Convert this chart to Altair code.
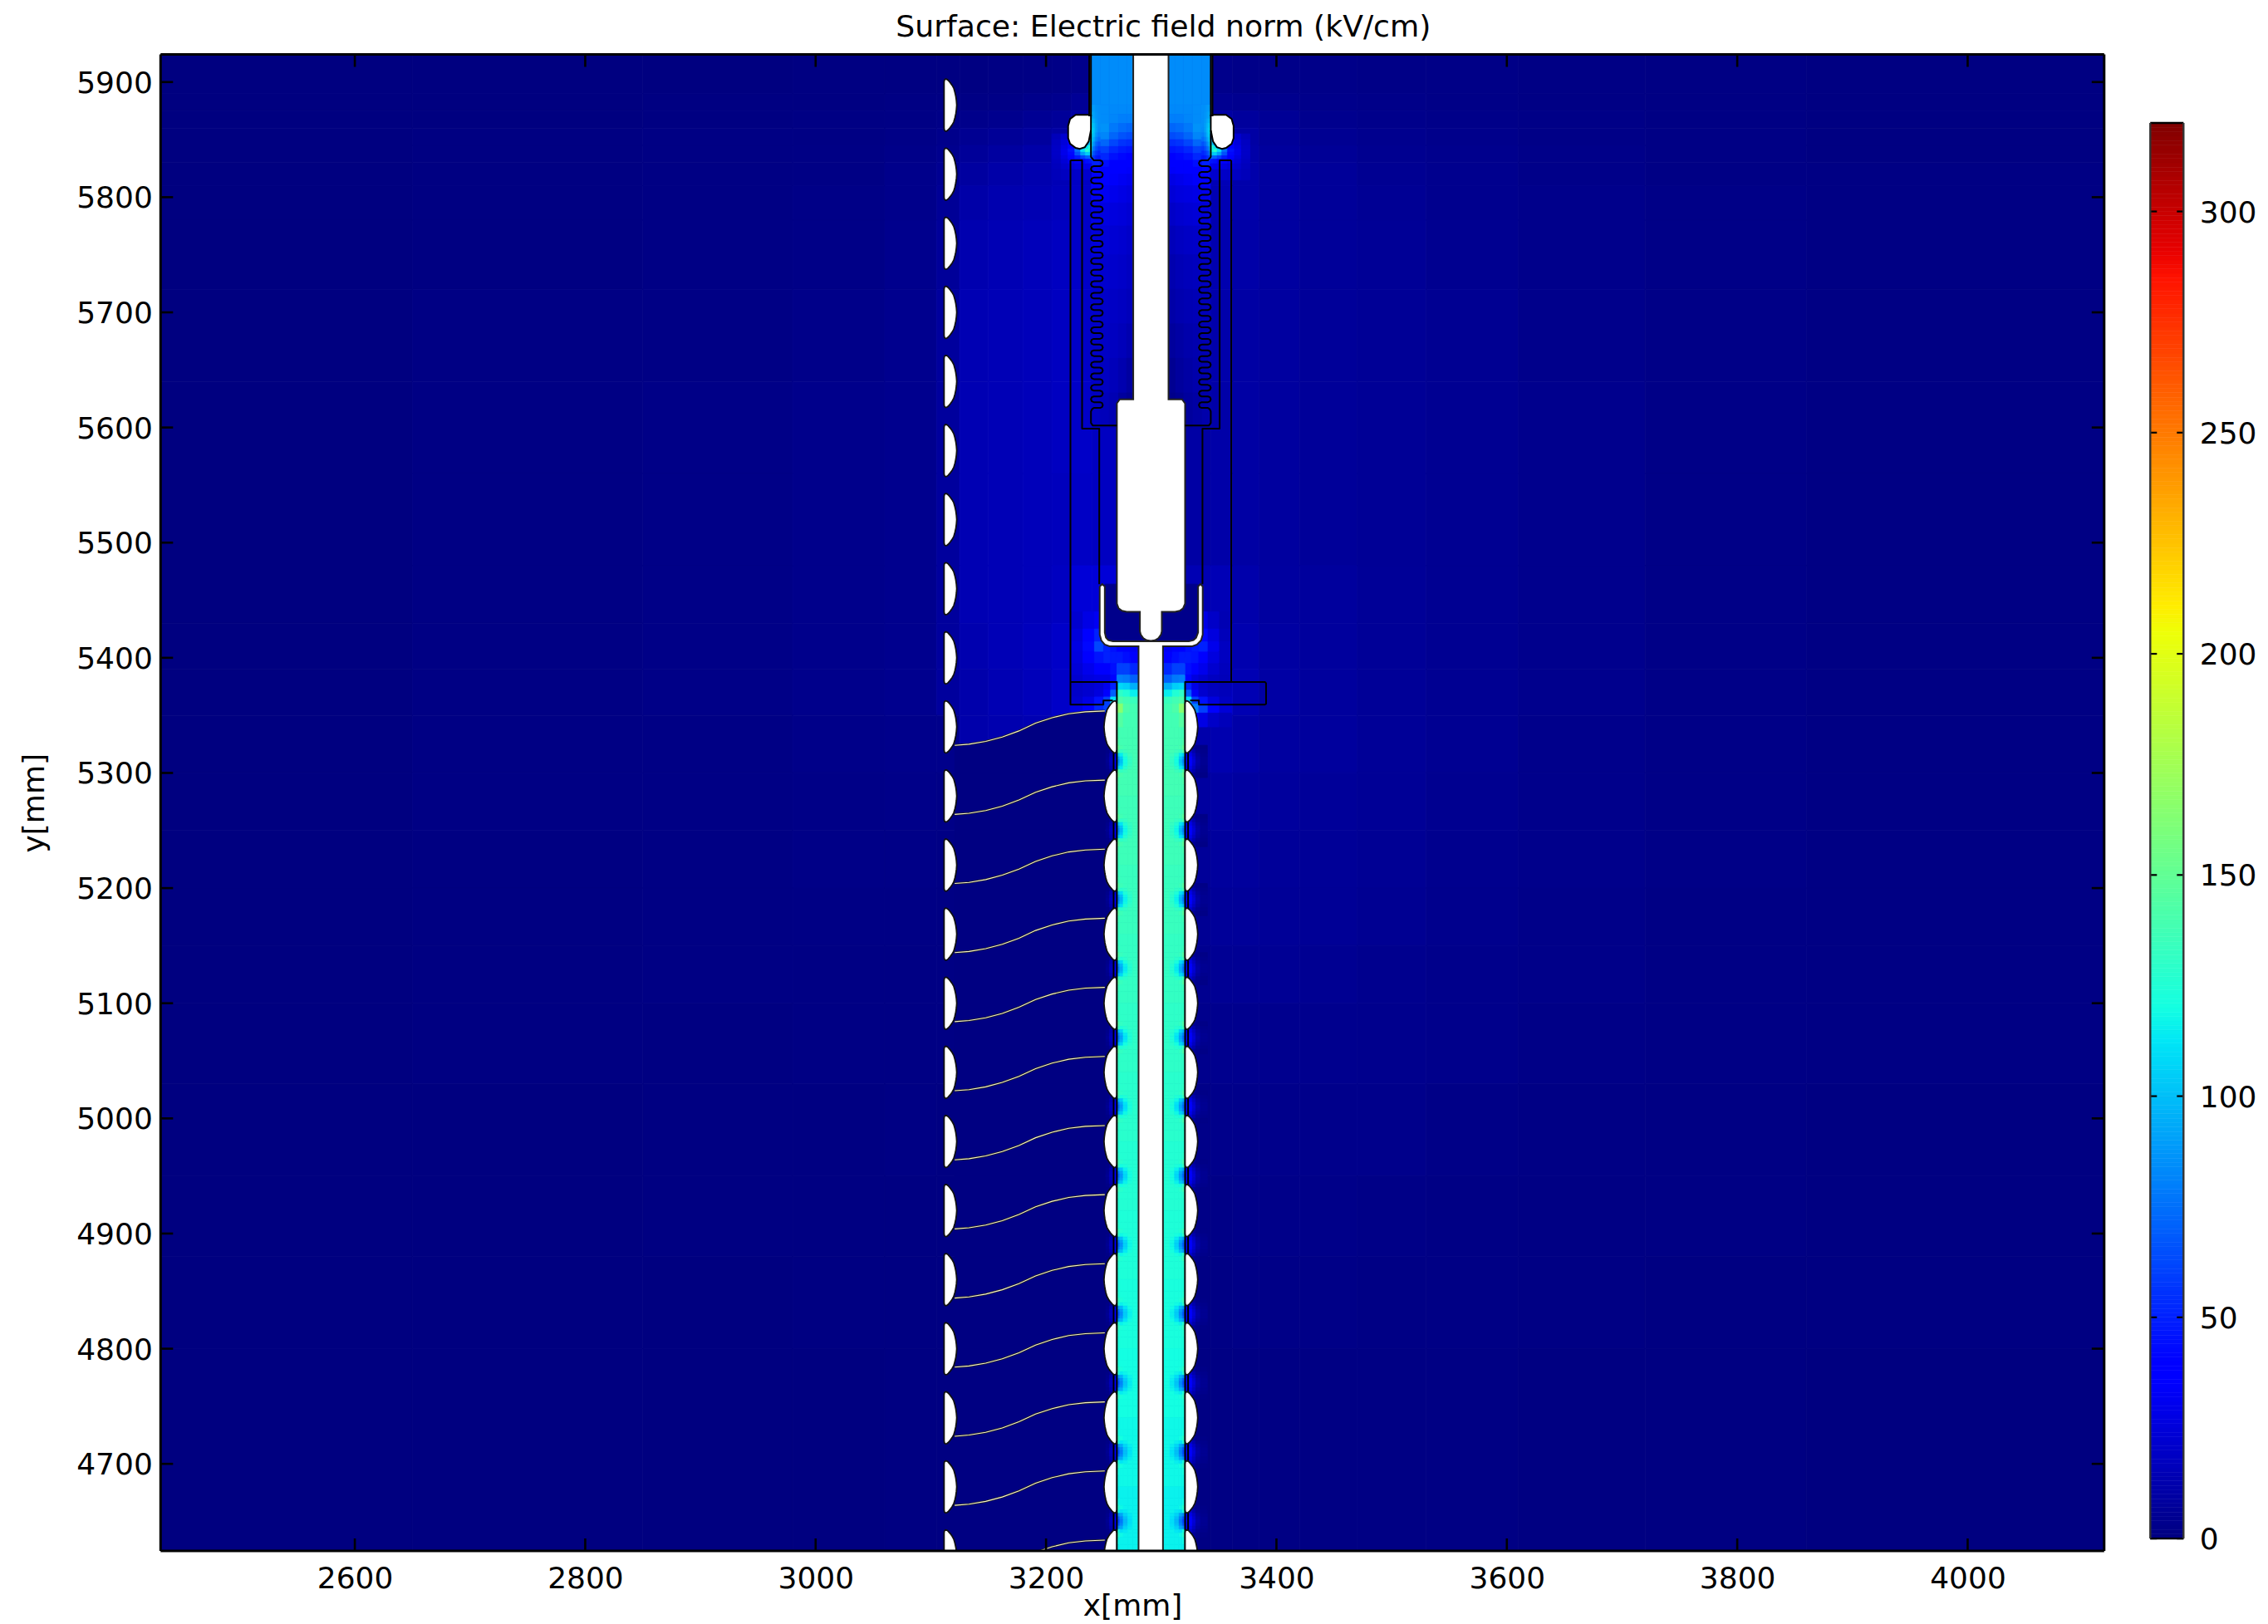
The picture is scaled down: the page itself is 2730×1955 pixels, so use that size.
import altair as alt

PLOT_W, PLOT_H = 2339.5, 1801.5
X_DOMAIN = [2431.4, 4118.5]
Y_DOMAIN = [4624.4, 5924.0]
MIRROR = 6582
FONT = "DejaVu Sans"
FS = 36

x_ticks = [2600, 2800, 3000, 3200, 3400, 3600, 3800, 4000]
y_ticks = [4700, 4800, 4900, 5000, 5100, 5200, 5300, 5400, 5500, 5600, 5700, 5800, 5900]
cbar_ticks = [0, 50, 100, 150, 200, 250, 300]

jet_stops = [0, 35.2, 40, 112, 120, 204.8, 211, 285, 291, 320]
jet_colors = ["#000080", "#0000ff", "#0000ff", "#00e5f7", "#14ffe2", "#eeff08", "#ffec00", "#ff1300", "#e80000", "#800000"]

# background field, kV/cm, read by eye
field_x = [2431, 2650, 2850, 2980, 3060, 3105, 3125, 3150, 3180, 3205, 3222, 3240, 3291, 3343, 3362, 3385, 3420, 3470, 3530, 3610, 3720, 3860, 4119]
field_y = [5930, 5890, 5875, 5860, 5845, 5830, 5810, 5780, 5720, 5640, 5560, 5480, 5430, 5390, 5350, 5300, 5250, 5200, 5150, 5100, 5030, 4950, 4880, 4800, 4600]
field_v = [
    [0, 0, 0, .5, .5, .5, .5, 1, 1.5, 2, 3, 8, 8, 3, 2.5, 2.5, 2.5, 2, 2, 1.5, 1, .5],
    [0, 0, .5, .5, 1, 1, 1.5, 2, 3, 4, 6, 20, 20, 5, 4.5, 4, 3, 2.5, 2, 1.5, 1, .5],
    [0, 0, .5, 1, 1.5, 2, 3, 4, 5.5, 7, 10, 30, 30, 10, 8, 6, 4, 3, 2.5, 2, 1, .5],
    [0, .5, 1, 1, 2, 3, 5, 6.5, 8, 10, 14, 30, 30, 13, 10, 7, 5, 4, 3, 2, 1.5, .5],
    [0, .5, 1, 1.5, 2.5, 4, 7, 9, 11, 13, 18, 30, 30, 15, 11, 8, 6, 4.5, 3.5, 2.5, 1.5, .5],
    [0, .5, 1, 1.5, 3, 5, 9, 11, 13, 15, 19, 25, 25, 15, 12, 9, 7, 5, 4, 2.5, 1.5, 1],
    [0, .5, 1, 2, 3, 6, 11, 13, 14, 16, 20, 25, 25, 14, 12, 9, 7, 5.5, 4, 3, 2, 1],
    [0, .5, 1.5, 2, 3.5, 7, 13, 14.5, 16, 18, 20, 22, 16, 13, 11, 9, 7, 6, 4.5, 3, 2, 1],
    [0, 1, 1.5, 2.5, 4, 8, 14, 15, 16, 18, 20, 20, 10, 12, 10, 9, 7, 6, 5, 3, 2, 1],
    [0, 1, 2, 3, 4, 8, 14, 15, 16, 18, 20, 18, 10, 11, 10, 8.5, 7, 6, 5, 3.5, 2, 1],
    [0, 1, 2, 3, 4, 8, 14, 15, 16, 17, 19, 18, 10, 11, 10, 8.5, 7, 6, 5, 3.5, 2, 1],
    [0, 1, 2, 3, 4, 8, 14, 15, 16, 18, 24, 24, 14, 15, 12, 9, 8, 6.5, 5, 3.5, 2, 1],
    [0, 1, 2, 3, 4, 8, 13, 15, 17, 20, 30, 36, 30, 22, 13, 9.5, 8, 6.5, 5, 3.5, 2, 1],
    [0, 1, 2, 3, 4, 8, 12, 14, 16, 20, 30, 50, 30, 25, 14, 10, 8, 6.5, 5, 3.5, 2, 1],
    [0, 1, 1.5, 2.5, 3, 3, 12, 13, 14, 18, 26, 1, 12, 13, 11, 9, 8, 6.5, 5, 3, 2, 1],
    [0, 1, 1.5, 2, 2.5, 2, 1, 1, 1, 1, 1, 1, 9, 10, 9, 8, 7, 6, 4.5, 3, 2, 1],
    [0, .5, 1, 2, 2, 1.5, 1, 1, 1, 1, 1, 1, 7, 8, 8, 7, 6.5, 5.5, 4, 3, 2, 1],
    [0, .5, 1, 1.5, 1.5, 1, 1, 1, 1, 1, 1, 1, 5.5, 7, 7, 6.5, 6, 5, 3.5, 2.5, 1.5, 1],
    [0, .5, 1, 1, 1, 1, 1, 1, 1, 1, 1, 1, 4.5, 5.5, 5.5, 5.5, 5, 4, 3, 2.5, 1.5, 1],
    [0, .5, .5, 1, 1, 1, 1, 1, 1, 1, 1, 1, 3.5, 4, 4, 4, 4, 3.5, 3, 2, 1.5, 1],
    [0, 0, .5, .5, 1, .5, 1, 1, 1, 1, 1, 1, 2.5, 3, 3, 3, 3, 3, 2, 1.5, 1, .5],
    [0, 0, .5, .5, .5, .5, 1, 1, 1, 1, 1, 1, 2, 2, 2.5, 2.5, 2.5, 2, 1.5, 1, 1, .5],
    [0, 0, 0, .5, .5, .5, 1, 1, 1, 1, 1, 1, 1.5, 1.5, 2, 2, 2, 1.5, 1.5, 1, .5, .5],
    [0, 0, 0, 0, .5, .5, 1, 1, 1, 1, 1, 1, 1, 1, 1, 1, 1, 1, 1, .5, .5, 0],
]

# upper channel between wall and post
top_x = [3239.4, 3247, 3255, 3263, 3270, 3275.7]
top_y = [5930, 5880, 5872, 5864, 5856, 5850, 5844, 5838, 5832, 5826, 5820, 5810, 5795, 5775, 5750, 5720, 5690, 5660, 5630, 5600]
top_left_v = [
    [84, 84, 84, 84, 84], [86, 84, 83, 83, 83], [92, 84, 82, 80, 80], [105, 86, 78, 74, 72],
    [110, 82, 72, 66, 64], [105, 72, 62, 56, 54], [90, 60, 52, 48, 46], [70, 52, 45, 42, 40],
    [50, 44, 40, 38, 37], [42, 40, 38, 36, 34], [38, 36, 34, 32, 30], [33, 32, 30, 28, 26],
    [28, 27, 26, 25, 23], [25, 24, 23, 22, 20], [23, 22, 21, 20, 18], [21, 20, 19, 18, 16],
    [20, 19, 18, 16, 13], [19, 18, 16, 13, 9], [18, 16, 14, 8, 5],
]
top_right_v = [
    [84, 84, 84, 84, 84], [86, 84, 83, 83, 83], [92, 84, 82, 80, 80], [105, 86, 78, 74, 72],
    [110, 82, 72, 66, 64], [105, 72, 62, 56, 54], [90, 60, 52, 48, 46], [70, 52, 45, 42, 40],
    [50, 44, 40, 38, 37], [42, 40, 38, 36, 34], [36, 34, 32, 30, 28], [30, 28, 27, 26, 24],
    [25, 24, 23, 22, 20], [21, 20, 19, 18, 16], [18, 17, 16, 15, 13], [16, 15, 14, 13, 11],
    [14, 13, 12, 10, 8], [13, 12, 10, 8, 5], [12, 10, 8, 5, 3],
]
# finer glow along the wall beside the rings
wall_x = [3239.4, 3241, 3243, 3245, 3247]
wall_y = [5880, 5874, 5868, 5864, 5860, 5856, 5852, 5848, 5844, 5840, 5836, 5832]
wall_v = [
    [90, 88, 86, 85], [95, 90, 87, 85], [102, 94, 88, 85], [108, 98, 90, 85], [112, 100, 90, 84], [112, 98, 86, 80],
    [110, 92, 80, 74], [104, 84, 72, 66], [92, 74, 64, 58], [80, 64, 56, 52], [64, 54, 48, 46],
]

# hot spot under the corona rings
ring_x = [3205, 3213, 3219, 3225, 3230, 3234, 3237, 3239.4]
ring_y = [5855, 5850, 5845, 5842, 5839, 5836, 5833, 5829, 5824, 5815]
ring_v = [
    [16, 22, 28, 35, 40, 50, 70], [18, 25, 34, 48, 60, 80, 100], [19, 28, 40, 60, 85, 110, 125],
    [20, 30, 45, 75, 110, 130, 120], [20, 30, 42, 65, 90, 105, 105], [19, 27, 36, 48, 60, 70, 72],
    [18, 24, 30, 36, 40, 44, 46], [17, 21, 24, 27, 29, 30, 31], [16, 18, 19, 20, 21, 22, 22],
]

# neck between cup and first lens
neck_x = [3221, 3232, 3242, 3250, 3256, 3261.5, 3267, 3273, 3280.3]
neck_y = [5440, 5425, 5414, 5405, 5395, 5385, 5378, 5372, 5366, 5360, 5352, 5340]
neck_left_v = [
    [22, 28, 32, 12, 3, 3, 3, 3], [25, 36, 50, 30, 3, 3, 3, 3], [27, 42, 62, 50, 45, 40, 35, 32],
    [26, 36, 46, 50, 48, 48, 44, 38], [24, 30, 36, 40, 44, 60, 60, 52], [22, 26, 28, 28, 40, 80, 78, 70],
    [20, 22, 24, 30, 50, 108, 105, 95], [20, 22, 26, 35, 70, 130, 125, 115], [22, 28, 45, 60, 110, 142, 138, 134],
    [28, 40, 52, 60, 60, 165, 142, 138], [10, 10, 10, 10, 10, 145, 138, 138],
]
neck_right_v = [
    [14, 20, 28, 12, 3, 3, 3, 3], [16, 26, 42, 26, 3, 3, 3, 3], [18, 30, 50, 48, 45, 40, 35, 32],
    [18, 26, 38, 46, 48, 48, 44, 38], [17, 22, 30, 38, 44, 60, 60, 52], [16, 18, 22, 26, 40, 80, 78, 70],
    [15, 17, 20, 28, 50, 108, 105, 95], [16, 18, 22, 33, 70, 130, 125, 115], [18, 26, 45, 60, 110, 142, 138, 134],
    [24, 38, 60, 80, 60, 165, 142, 138], [16, 20, 28, 40, 10, 145, 138, 138],
]

# lower channel, one tile per gap between lenses
gap_centres = [5370, 5310, 5250, 5190, 5130, 5070, 5010, 4950, 4890, 4830, 4770, 4710, 4650, 4590]
gap_base = [138, 138, 136, 134, 132, 130, 128, 126, 124, 122, 120, 118, 116, 114]
tile_dy = [30, 20, 14, 10, 7, 4, 1.5, -1.5, -4, -7, -10, -14, -20, -30]
tile_x = [3261.5, 3264, 3267, 3271, 3275, 3280.3]
tile_delta = [
    [0, 0, 0, 0, 0], [3, 0, 0, 0, 0], [12, 2, 0, 0, 0], [6, -6, -3, 0, 0],
    [-34, -24, -10, -3, 0], [-50, -34, -16, -5, 0], [-56, -38, -18, -6, 0], [-50, -34, -16, -5, 0],
    [-34, -24, -10, -3, 0], [6, -6, -3, 0, 0], [12, 2, 0, 0, 0], [3, 0, 0, 0, 0], [0, 0, 0, 0, 0],
]
slit_dy = [14, 10, 7, 4, 1.5, -1.5, -4, -7, -10, -14]
slit_left_x = [3252, 3255, 3258.7, 3261.5]
slit_left_v = [[1, 2, 8], [2, 6, 20], [3, 12, 30], [4, 15, 34], [5, 16, 36], [4, 15, 34], [3, 12, 30], [2, 6, 20], [1, 2, 8]]
slit_right_x = [3320.7, 3323.3, 3327, 3330, 3334, 3340]
slit_right_v = [
    [20, 12, 6, 3, 2], [28, 22, 12, 5, 3], [38, 30, 18, 8, 4], [42, 36, 22, 10, 5], [44, 38, 24, 11, 5],
    [42, 36, 22, 10, 5], [38, 30, 18, 8, 4], [28, 22, 12, 5, 3], [20, 12, 6, 3, 2],
]
cup_x = [3251, 3332]
cup_y = [5464, 5414]
cup_v = [[3]]

# geometry, mm
outer_lens_y = [5880, 5820, 5760, 5700, 5640, 5580, 5520, 5460, 5400, 5340, 5280, 5220, 5160, 5100, 5040, 4980, 4920, 4860, 4800, 4740, 4680, 4620]
inner_lens_y = [5340, 5280, 5220, 5160, 5100, 5040, 4980, 4920, 4860, 4800, 4740, 4680, 4620]
lens_dx = [0, 0, 0.3, 1.2, 2.4, 3.6, 5.3, 7, 8.4, 9.4, 10.2, 10.7, 11, 10.7, 10.2, 9.4, 8.4, 7, 5.3, 3.6, 2.4, 1.2, 0.3, 0, 0]
lens_dy = [12, 20, 21.8, 22.6, 22.4, 21.5, 19.5, 17.2, 14.7, 11.2, 7.5, 3.8, 0, -3.8, -7.5, -11.2, -14.7, -17.2, -19.5, -21.5, -22.4, -22.6, -21.8, -20, -12]
outer_lens_x = 3111.5
inner_lens_x = 3320.7

wire_x = [3120.7, 3133.2, 3147.6, 3162, 3176.5, 3190.9, 3205.3, 3219.7, 3234.2, 3251]
wire_dy = [-16, -15, -12.6, -8.8, -3.5, 3.2, 8, 11.4, 13.1, 13.8]

post_x = [3275.7, 3275.7, 3264, 3261.5, 3261.5, 3263, 3266, 3270, 3281.5, 3281.5, 3282.3, 3284.5, 3287.5, 3291, 3294.5, 3297.5, 3299.7, 3300.5, 3300.5, 3312, 3316, 3319, 3320.7, 3320.7, 3318, 3306.3, 3306.3, 3275.7]
post_y = [5930, 5624.5, 5624.5, 5621, 5447, 5443, 5440.8, 5439.9, 5439.9, 5423, 5420, 5417, 5415.2, 5414.7, 5415.2, 5417, 5420, 5423, 5439.9, 5439.9, 5440.8, 5443, 5447, 5621, 5624.5, 5624.5, 5930, 5930]
cup_poly_x = [3246.6, 3248.8, 3251, 3251, 3252, 3254, 3258, 3324, 3328, 3330.3, 3332, 3332, 3334, 3336, 3336, 3334.5, 3331, 3327, 3301.5, 3301.5, 3280.3, 3280.3, 3255, 3251, 3248, 3246.6, 3246.6]
cup_poly_y = [5462, 5464, 5462, 5422, 5417.5, 5415.3, 5414.3, 5414.3, 5415.3, 5417.5, 5422, 5462, 5464, 5462, 5420, 5415, 5411.5, 5410, 5410, 4600, 4600, 5410, 5410, 5411.5, 5415, 5420, 5462]
ring_poly_x = [3239, 3225.7, 3220.9, 3219.2, 3219.2, 3220.9, 3225.7, 3229.3, 3233.7, 3237, 3239, 3239]
ring_poly_y = [5871.6, 5871.6, 5868, 5862, 5851.2, 5846.4, 5842.8, 5842, 5843.5, 5848.3, 5858.4, 5871.6]
sliver_x = [3237.5, 3239, 3239, 3237.5, 3237.5]
sliver_y = [5930, 5930, 5871, 5871, 5930]

meander_dx = [2.5, 7.8, 9.6, 10.3, 9.6, 7.8, 2.5, 0.7, 0, 0.7, 2.5]
meander_dy = [0, 0, -0.7, -2.5, -4.3, -5, -5, -5.7, -7.5, -9.3, -10]
meander_tops = [5832, 5822, 5812, 5802, 5792, 5782, 5772, 5762, 5752, 5742, 5732, 5722, 5712, 5702, 5692, 5682, 5672, 5662, 5652, 5642, 5632, 5622]
meander_x0 = 3239

outline_paths = [
    ([3221.2, 3231.3, 3231.3, 3246.2, 3246.2], [5832, 5832, 5599, 5599, 5464]),
    ([3221.2, 3221.2, 3249.8, 3249.8, 3258], [5832, 5359.4, 5359.4, 5363, 5363]),
    ([3221.2, 3261.5, 3261.5], [5379, 5379, 4600]),
    ([3360.8, 3350.7, 3350.7, 3335.8, 3335.8], [5832, 5832, 5599, 5599, 5464]),
    ([3360.8, 3360.8], [5832, 5379]),
    ([3320.7, 3320.7, 3390, 3391, 3391, 3390, 3332.7, 3332.7, 3325], [4600, 5379, 5379, 5378, 5360, 5359.4, 5359.4, 5363, 5363]),
]
slit_line_x = [3258.7, 3323.3]


def grid(xe, ye, vals, mirror=False):
    rows = []
    for r, line in enumerate(vals):
        for c, v in enumerate(line):
            a, b = xe[c], xe[c + 1]
            if mirror:
                a, b = MIRROR - a, MIRROR - b
            rows.append({"x0": a, "x1": b, "y0": ye[r], "y1": ye[r + 1], "v": v})
    return rows


cells = grid(field_x, field_y, field_v)
cells += grid(top_x, top_y, top_left_v) + grid(top_x, top_y, top_right_v, True)
cells += grid(wall_x, wall_y, wall_v) + grid(wall_x, wall_y, wall_v, True)
cells += grid(ring_x, ring_y, ring_v) + grid(ring_x, ring_y, ring_v, True)
for gap, base in zip(gap_centres, gap_base):
    ye = [gap + d for d in tile_dy]
    tile = [[base + d for d in row] for row in tile_delta]
    cells += grid(tile_x, ye, tile) + grid(tile_x, ye, tile, True)
for gap in gap_centres[1:-1]:
    ye = [gap + d for d in slit_dy]
    cells += grid(slit_left_x, ye, slit_left_v) + grid(slit_right_x, ye, slit_right_v)
cells += grid(neck_x, neck_y, neck_left_v) + grid(neck_x, neck_y, neck_right_v, True)
cells += grid(cup_x, cup_y, cup_v)

xs = alt.Scale(domain=X_DOMAIN, nice=False, zero=False)
ys = alt.Scale(domain=Y_DOMAIN, nice=False, zero=False)
jet = alt.Scale(domain=jet_stops, range=jet_colors, clamp=True, interpolate="rgb")

ax_x = alt.Axis(values=x_ticks, format="d", ticks=False, domain=False, grid=False, title="x[mm]",
                labelFont=FONT, labelFontSize=FS, labelPadding=17, labelColor="#000",
                titleFont=FONT, titleFontSize=FS, titleFontWeight="normal", titlePadding=-2, titleColor="#000")
ax_y = alt.Axis(values=y_ticks, format="d", ticks=False, domain=False, grid=False, title="y[mm]",
                labelFont=FONT, labelFontSize=FS, labelPadding=10, labelColor="#000", labelOffset=1.5,
                titleFont=FONT, titleFontSize=FS, titleFontWeight="normal", titlePadding=31, titleColor="#000")

field = alt.Chart(alt.Data(values=cells)).mark_rect(clip=True, strokeWidth=0.8).encode(
    x=alt.X("x0:Q", scale=xs, axis=ax_x), x2="x1:Q",
    y=alt.Y("y0:Q", scale=ys, axis=ax_y), y2="y1:Q",
    color=alt.Color("v:Q", scale=jet, legend=None),
    stroke=alt.Stroke("v:Q", scale=jet, legend=None),
)


def poly_rows(paths):
    rows = []
    for pid, (px, py) in enumerate(paths):
        for i, (a, b) in enumerate(zip(px, py)):
            rows.append({"id": pid, "i": i, "x": a, "y": b})
    return rows


def shape(paths, **mark):
    return alt.Chart(alt.Data(values=poly_rows(paths))).mark_line(clip=True, **mark).encode(
        x=alt.X("x:Q", scale=xs, axis=ax_x),
        y=alt.Y("y:Q", scale=ys, axis=ax_y),
        detail="id:N",
        order="i:Q",
    )


# navy shielded region under the first wire
shield_path = ([x for x in wire_x] + [3251, 3120.7, 3120.7],
               [5340 + d for d in wire_dy] + [4600, 4600, 5324])

lens_closed_x = lens_dx + lens_dx[:1]
lens_closed_y = lens_dy + lens_dy[:1]
lens_paths = []
for c in outer_lens_y:
    lens_paths.append(([outer_lens_x + d for d in lens_closed_x], [c + d for d in lens_closed_y]))
for c in inner_lens_y:
    lens_paths.append(([inner_lens_x + d for d in lens_closed_x], [c + d for d in lens_closed_y]))
    lens_paths.append(([MIRROR - inner_lens_x - d for d in lens_closed_x], [c + d for d in lens_closed_y]))

white_paths = [(post_x, post_y), (cup_poly_x, cup_poly_y)]
ring_paths = [(ring_poly_x, ring_poly_y), ([MIRROR - x for x in ring_poly_x], ring_poly_y),
              (sliver_x, sliver_y), ([MIRROR - x for x in sliver_x], sliver_y)]

wire_paths = [(wire_x, [c + d for d in wire_dy]) for c in inner_lens_y]

m_x, m_y = [3239, 3239, 3241.5], [5858, 5835, 5832]
for k, top in enumerate(meander_tops):
    pts = range(len(meander_dx)) if k < len(meander_tops) - 1 else range(7)
    for j in pts:
        m_x.append(meander_x0 + meander_dx[j])
        m_y.append(top + meander_dy[j])
m_x += [3240, 3239, 3239, 3240.5, 3261.5]
m_y += [5616, 5614, 5604, 5601.8, 5601.8]
line_paths = [(m_x, m_y), ([MIRROR - x for x in m_x], m_y)] + outline_paths
for g in gap_centres[1:-1]:
    for sx in slit_line_x:
        line_paths.append(([sx, sx], [g + 8, g - 8]))

shield = shape([shield_path], fill="#000082", stroke="#000082", strokeWidth=0.5)
posts = shape(white_paths, fill="white", stroke="#222", strokeWidth=2)
rings = shape(ring_paths, fill="white", stroke="black", strokeWidth=2)
lines = shape(line_paths, stroke="black", strokeWidth=2, fill="transparent", strokeJoin="round")
lenses = shape(lens_paths, fill="white", stroke="#111", strokeWidth=1.8)
wires_dark = shape(wire_paths, stroke="#222", strokeWidth=2.6)
wires_light = shape(wire_paths, stroke="#f4f0c8", strokeWidth=1.1)

x_tick_rows = [{"t": t} for t in x_ticks]
y_tick_rows = [{"t": t} for t in y_ticks]
tick_style = dict(color="black", strokeWidth=2.6)
ticks_bottom = alt.Chart(alt.Data(values=x_tick_rows)).mark_rule(**tick_style).encode(
    x=alt.X("t:Q", scale=xs, axis=ax_x), y=alt.value(PLOT_H), y2=alt.value(PLOT_H - 15))
ticks_top = alt.Chart(alt.Data(values=x_tick_rows)).mark_rule(**tick_style).encode(
    x=alt.X("t:Q", scale=xs, axis=ax_x), y=alt.value(0), y2=alt.value(15))
ticks_left = alt.Chart(alt.Data(values=y_tick_rows)).mark_rule(**tick_style).encode(
    y=alt.Y("t:Q", scale=ys, axis=ax_y), x=alt.value(0), x2=alt.value(15))
ticks_right = alt.Chart(alt.Data(values=y_tick_rows)).mark_rule(**tick_style).encode(
    y=alt.Y("t:Q", scale=ys, axis=ax_y), x=alt.value(PLOT_W), x2=alt.value(PLOT_W - 15))


def frame(w, h, sw):
    return [
        alt.Chart(alt.Data(values=[{"a": 0}])).mark_rule(color="black", strokeWidth=sw).encode(x=alt.value(0), x2=alt.value(w), y=alt.value(0)),
        alt.Chart(alt.Data(values=[{"a": 0}])).mark_rule(color="black", strokeWidth=sw).encode(x=alt.value(0), x2=alt.value(w), y=alt.value(h)),
        alt.Chart(alt.Data(values=[{"a": 0}])).mark_rule(color="black", strokeWidth=sw).encode(x=alt.value(0), y=alt.value(0), y2=alt.value(h)),
        alt.Chart(alt.Data(values=[{"a": 0}])).mark_rule(color="black", strokeWidth=sw).encode(x=alt.value(w), y=alt.value(0), y2=alt.value(h)),
    ]


title = alt.Chart(alt.Data(values=[{"s": "Surface: Electric field norm (kV/cm)"}])).mark_text(
    font=FONT, fontSize=36.2, color="black", align="center", baseline="middle"
).encode(text="s:N", x=alt.value(1207), y=alt.value(-33))

main = alt.layer(field, shield, posts, rings, lines, lenses, wires_dark, wires_light,
                 ticks_bottom, ticks_top, ticks_left, ticks_right, *frame(PLOT_W, PLOT_H, 3), title
                 ).properties(width=PLOT_W, height=PLOT_H)

# colour bar: value 0 at 1852 px and 320 at 148 px on a panel as tall as the plot
cbar_levels = list(range(0, 320, 1))
CB_DOMAIN = [-2.8, 335.5]
cbs = alt.Scale(domain=CB_DOMAIN, nice=False, zero=False)
ax_cb = alt.Axis(values=cbar_ticks, orient="right", ticks=False, domain=False, grid=False,
                 title=None, labelFont=FONT, labelFontSize=FS, labelPadding=19, labelColor="#000", labelOffset=1.5)
cb_rows = [{"a": 0, "b": 1, "v0": v, "v1": v + 1, "v": v + 0.5} for v in cbar_levels]
cb_x = alt.Scale(domain=[0, 1], nice=False, zero=False)
cb_rect = alt.Chart(alt.Data(values=cb_rows)).mark_rect(strokeWidth=0.6).encode(
    x=alt.X("a:Q", scale=cb_x, axis=None), x2="b:Q",
    y=alt.Y("v0:Q", scale=cbs, axis=ax_cb),
    y2="v1:Q",
    color=alt.Color("v:Q", scale=jet, legend=None),
    stroke=alt.Stroke("v:Q", scale=jet, legend=None),
)
CB_W = 40
cb_tick_rows = [{"t": t} for t in cbar_ticks]
cb_t1 = alt.Chart(alt.Data(values=cb_tick_rows)).mark_rule(color="black", strokeWidth=2.2).encode(
    y=alt.Y("t:Q", scale=cbs, axis=ax_cb), x=alt.value(0), x2=alt.value(8))
cb_t2 = alt.Chart(alt.Data(values=cb_tick_rows)).mark_rule(color="black", strokeWidth=2.2).encode(
    y=alt.Y("t:Q", scale=cbs, axis=ax_cb), x=alt.value(CB_W), x2=alt.value(CB_W - 8))
cb_edges = alt.Chart(alt.Data(values=[{"v": 0}, {"v": 320}])).mark_rule(color="black", strokeWidth=2.4).encode(
    y=alt.Y("v:Q", scale=cbs, axis=ax_cb), x=alt.value(0), x2=alt.value(CB_W))
cb_side1 = alt.Chart(alt.Data(values=[{"a": 0, "b": 320}])).mark_rule(color="#333", strokeWidth=2.4).encode(
    y=alt.Y("a:Q", scale=cbs, axis=ax_cb), y2="b:Q", x=alt.value(0))
cb_side2 = alt.Chart(alt.Data(values=[{"a": 0, "b": 320}])).mark_rule(color="#333", strokeWidth=2.4).encode(
    y=alt.Y("a:Q", scale=cbs, axis=ax_cb), y2="b:Q", x=alt.value(CB_W))
cbar = alt.layer(cb_rect, cb_t1, cb_t2, cb_edges, cb_side1, cb_side2).properties(width=CB_W, height=PLOT_H)

chart = alt.hconcat(main, cbar, spacing=52).resolve_scale(color="independent", x="independent", y="independent").properties(
    background="white", padding={"left": 15.3, "top": 6.5, "right": 0, "bottom": 0}
).configure_view(stroke=None)

chart.save("out.html", embed_options={"renderer": "svg", "actions": False})
